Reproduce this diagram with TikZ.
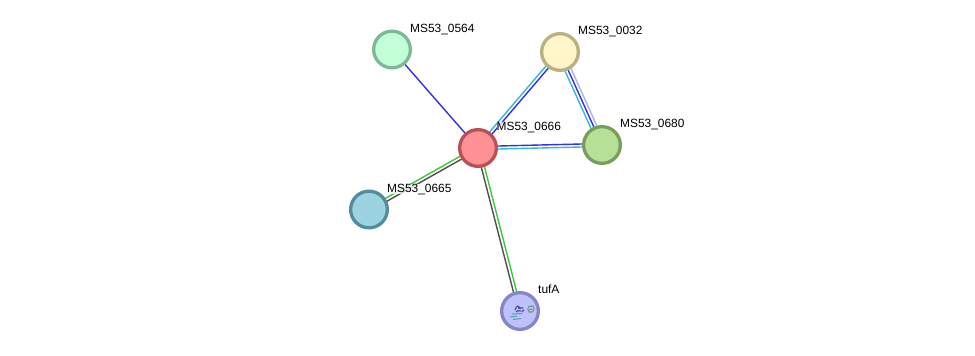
\documentclass[tikz,border=0pt]{standalone}
\usepackage{fontspec}
\setmainfont{Liberation Sans}
\usetikzlibrary{calc,backgrounds}
\definecolor{edgeblue}{HTML}{3030F0}
\definecolor{edgecyan}{HTML}{35B8D8}
\definecolor{edgepale}{HTML}{B0B0FA}
\definecolor{edgegreen}{HTML}{3CC83C}
\definecolor{edgedark}{HTML}{505050}
\definecolor{redline}{HTML}{B85054}\definecolor{redfill}{HTML}{FF9194}
\definecolor{mintline}{HTML}{7EB896}\definecolor{mintfill}{HTML}{C0FFD8}
\definecolor{sandline}{HTML}{BAB080}\definecolor{sandfill}{HTML}{FFF5C8}
\definecolor{leafline}{HTML}{7A9E5A}\definecolor{leaffill}{HTML}{B6E098}
\definecolor{tealline}{HTML}{548C9C}\definecolor{tealfill}{HTML}{9BD3E0}
\definecolor{violetline}{HTML}{8686C4}\definecolor{violetfill}{HTML}{C0C0FA}
\definecolor{coilblue}{HTML}{3A48A8}
\definecolor{coilteal}{HTML}{4AA8A8}
\definecolor{coilgreen}{HTML}{6A9A80}
\tikzset{
  protein/.style 2 args={circle,draw=#1,fill=#2,line width=3.3pt,minimum size=36.7pt,inner sep=0pt},
  tag/.style={anchor=base west,inner sep=0pt,font=\fontsize{11.9}{14}\selectfont,text=black},
  halo/.style={fill=white,fill opacity=.75,text opacity=1},
  strand/.style={line width=1.4pt}
}
% one coloured evidence line between two nodes, displaced sideways by #3
\newcommand{\evidence}[4]{%
  \draw[strand,#4] ($(#1)!#3!90:(#2)$) -- ($(#2)!#3!-90:(#1)$);}
\begin{document}
\begin{tikzpicture}[x=1pt,y=-1pt]
  \useasboundingbox (0,0) rectangle (975,356);
  \node[protein={redline}{redfill}] (n666) at (478,148) {};
  \node[protein={mintline}{mintfill}] (n564) at (392,49.5) {};
  \node[protein={sandline}{sandfill}] (n032) at (560,52) {};
  \node[protein={leafline}{leaffill}] (n680) at (602,145) {};
  \node[protein={tealline}{tealfill}] (n665) at (369,209.5) {};
  \node[protein={violetline}{violetfill}] (tuf) at (520,311) {};

  % structure sketch inside the tufA node
  \begin{scope}[shift={(tuf.center)}]
    \draw[coilteal,line width=1pt] (-10,6) -- (-3,5) (-7,8.5) -- (1,7.5) (-8,3) -- (2,2.5);
    \draw[coilblue,line width=1.1pt]
      (-5,-1) .. controls (-3,-7) and (-1,-5) .. (0,-2)
      (-4,1) .. controls (-1,-3) and (1,3) .. (4,-1)
      (-2,-3) -- (3,-3);
    \draw[purple!60,line width=.7pt] (-2,0) -- (4,1);
    \draw[coilgreen,line width=.8pt] (11,-2) circle (3.2pt);
    \draw[coilgreen,line width=.8pt] (8,-4) -- (14,-5) (7.5,-1) -- (14,-2) (8,1) -- (13,1);
  \end{scope}

  \begin{scope}[on background layer]
    \evidence{n666}{n564}{0pt}{edgeblue}
    \evidence{n666}{n032}{1.6pt}{edgecyan}
    \evidence{n666}{n032}{-1.6pt}{edgeblue}
    \evidence{n032}{n680}{-3.2pt}{edgecyan}
    \evidence{n032}{n680}{0pt}{edgeblue}
    \evidence{n032}{n680}{3.2pt}{edgepale}
    \evidence{n666}{n680}{1.5pt}{edgeblue}
    \evidence{n666}{n680}{-1.5pt}{edgecyan}
    \evidence{n666}{n665}{-1.6pt}{edgegreen}
    \evidence{n666}{n665}{1.6pt}{edgedark}
    \evidence{n666}{tuf}{1.6pt}{edgegreen}
    \evidence{n666}{tuf}{-1.6pt}{edgedark}
  \end{scope}

  \node[tag] (t564) at (410,32) {MS53\_0564};
  \node[tag] (t032) at (578,34.5) {MS53\_0032};
  \node[tag] (t680) at (620,127) {MS53\_0680};
  \node[tag,halo] (t666) at (496.5,130.5) {MS53\_0666};
  \node[tag,halo] (t665) at (387,192) {MS53\_0665};
  \node[tag] (ttuf) at (538,293) {tufA};
\end{tikzpicture}
\end{document}
